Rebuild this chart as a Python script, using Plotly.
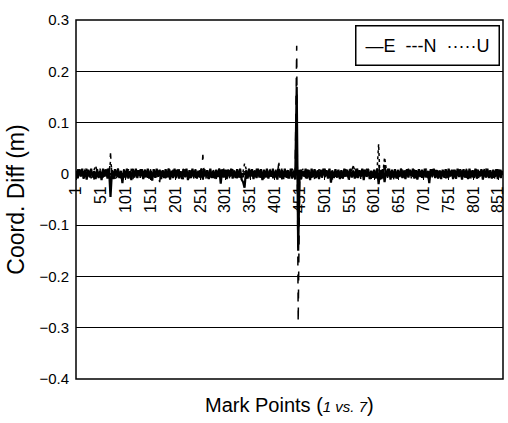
import plotly.graph_objects as go

# ---------------- data (values in millimetres, converted to metres) ----------------
E_noise_mm = [
    6, -8, 9, -5, 10, -9, 7, -11, 8, -6, 10, -7, 5, -10, 9, -8, 6, -12, 10, -5,
    8, -9, 10, -6, 7, -10, 9, -4, 10, -8, 6, -18, 8, -7, 10, -9, 5, -12, 9, -6,
    10, -8, 7, -5, 9, -10, 8, -6, 10, -9, 6, -13, 9, -7, 10, -5, 8, -10, 7, -8,
    9, -6, 10, -11, 6, -8, 10, -7, 8, -9, 5, -10, 9, -6, 10, -12, 7, -8, 10, -5,
    8, -9, 6, -7, 10, -11, 9, -5, 7, -10, 10, -8, 6, -9, 8, -6, 10, -19, 9, -7,
    7, -10, 8, -5, 10, -9, 6, -8, 9, -7, 10, -11, 8, -6, 7, -9, 10, -5, 9, -10,
    6, -8, 10, -7, 9, -12, 8, -6, 10, -9, 7, -5, 10, -8, 6, -11, 9, -7, 8, -10,
    10, -6, 7, -9, 10, -8, 5, -11, 9, -7, 8, -10, 6, -5, 10, -9, 7, -12, 10, -6,
    9, -8, 6, -10, 8, -7, 10, -5, 7, -9, 10, -17, 6, -8, 9, -6, 8, -10, 7, -9,
    10, -5, 8, -11, 9, -7, 6, -9, 10, -8, 7, -6, 10, -12, 8, -5, 9, -10, 6, -7,
    8, -9, 10, -6, 7, -10, 9, -8, 6, -5, 10, -11, 8, -7, 9, -9, 7, -6, 10, -8,
    6, -10, 9, -7, 8, -5, 10, -9, 7, -11, 9, -6, 8, -8, 10, -7, 6, -18, 9, -5,
    10, -8, 7, -9, 6, -10, 8, -6, 9, -7, 10, -5, 7, -10, 8, -9, 10, -6, 6, -11,
    9, -7, 8, -10, 10, -6, 7, -8, 10, -9, 6, -5, 9, -11, 8, -7, 10, -8, 7, -9,
    8, -6, 9, -10, 7, -8, 6,
]
N_noise_mm = [
    -7, 9, -6, 8, -10, 5, -8, 10, -5, 7, -9, 6, -11, 8, -6, 9, -7, 5, -9, 8,
    -6, 10, -8, 7, -5, 9, -10, 6, -7, 8, -9, 10, -6, 5, -8, 9, -7, 10, -11, 6,
    -8, 7, -6, 9, -9, 5, -7, 10, -8, 6, -10, 8, -5, 9, -7, 7, -16, 10, -6, 8,
    -9, 6, -7, 10, -5, 8, -10, 7, -6, 9, -8, 5, -11, 9, -7, 6, -9, 10, -5, 7,
    -8, 9, -6, 7, -10, 8, -5, 10, -9, 6, -7, 9, -8, 5, -10, 7, -6, 8, -9, 10,
    -5, 8, -11, 7, -7, 9, -6, 5, -9, 10, -8, 6, -7, 8, -10, 9, -5, 7, -8, 6,
    -9, 10, -6, 7, -8, 5, -10, 9, -7, 8, -6, 10, -9, 6, -5, 7, -8, 9, -11, 8,
    -6, 7, -9, 5, -7, 10, -8, 6, -10, 9, -5, 8, -7, 6, -9, 10, -6, 7, -8, 5,
    -10, 8, -6, 9, -7, 7, -5, 10, -9, 6, -8, 8, -11, 5, -6, 9, -7, 10, -8, 6,
    -7, 9, -9, 5, -6, 8, -10, 7, -8, 10, -5, 6, -9, 8, -7, 10, -6, 5, -10, 9,
    -8, 6, -5, 9, -7, 8, -11, 7, -6, 10, -9, 5, -8, 7, -7, 9, -10, 6, -5, 8,
    -9, 7, -6, 10, -8, 5, -7, 9, -10, 6, -5, 8, -8, 7, -6, 10, -9, 5, -7, 9,
    -6, 8, -10, 6, -7, 9, -5, 7, -9, 10, -8, 6, -6, 8, -11, 5, -7, 9, -8, 7,
    -5, 10, -8, 6, -9, 7, -7, 8, -6, 9, -10, 5, -8, 7, -6, 10, -9, 6, -7, 8,
    -8, 6, -5, 9, -7, 8, -6,
]
U_noise_mm = [
    5, -9, 8, -6, 7, -11, 10, -5, 6, -8, 9, -7, 8, -10, 5, -6, 10, -9, 7, -5,
    9, -7, 6, -10, 8, -5, 7, -9, 10, -6, 5, -8, 9, -11, 6, -7, 8, -5, 10, -9,
    7, -6, 9, -8, 5, -10, 8, -7, 6, -9, 10, -5, 7, -8, 9, -6, 5, -10, 8, -7,
    6, -9, 10, -5, 8, -7, 7, -11, 9, -6, 5, -8, 10, -7, 6, -9, 8, -5, 7, -10,
    9, -6, 5, -8, 10, -7, 6, -9, 8, -10, 7, -5, 9, -8, 6, -7, 10, -6, 5, -9,
    8, -7, 9, -10, 6, -5, 7, -8, 10, -6, 8, -9, 5, -7, 10, -8, 6, -10, 9, -5,
    7, -9, 6, -6, 8, -11, 9, -7, 5, -8, 10, -6, 7, -9, 8, -5, 6, -10, 10, -7,
    5, -8, 9, -6, 7, -10, 8, -5, 9, -7, 6, -11, 10, -8, 5, -6, 8, -9, 7, -7,
    10, -6, 7, -9, 5, -8, 10, -7, 6, -5, 9, -10, 8, -6, 7, -8, 9, -7, 6, -11,
    8, -5, 6, -9, 10, -7, 7, -8, 5, -6, 9, -10, 8, -7, 6, -9, 10, -5, 7, -8,
    6, -10, 9, -7, 8, -6, 5, -9, 10, -8, 7, -5, 6, -11, 9, -7, 8, -6, 10, -9,
    7, -8, 5, -6, 9, -9, 10, -7, 6, -10, 8, -5, 7, -8, 9, -6, 5, -9, 10, -7,
    9, -6, 8, -10, 7, -5, 6, -8, 10, -9, 5, -7, 8, -6, 10, -10, 7, -5, 9, -8,
    6, -7, 10, -8, 5, -9, 8, -6, 7, -11, 9, -5, 6, -8, 10, -7, 8, -9, 5, -6,
    7, -10, 8, -5, 9, -7, 6,
]

# spikes: mark point -> value (mm)
E_spike_marks = [70, 337, 340, 445, 448, 610, 622]
E_spike_mm = [-45, -16, -27, 170, -150, -20, -16]
N_spike_marks = [70, 256, 409, 445, 448, 559, 610, 622]
N_spike_mm = [40, 37, 16, 250, -290, 15, 22, 26]
U_spike_marks = [40, 70, 340, 409, 610, 613, 622]
U_spike_mm = [16, 24, 20, 23, 58, -14, 32]

series_names = ["E", "N", "U"]
legend_text = "—E  ---N  ·····U"

MARK_STEP = 3  # one sampled value every 3 mark points
x_tick_vals = [1, 51, 101, 151, 201, 251, 301, 351, 401, 451,
               501, 551, 601, 651, 701, 751, 801, 851]
x_tick_text = [str(v) for v in x_tick_vals]
y_tick_vals = [0.3, 0.2, 0.1, 0, -0.1, -0.2, -0.3, -0.4]


def build(noise, marks, spikes):
    vals = list(noise)
    for m, v in zip(marks, spikes):
        i = (m - 1) // MARK_STEP
        if 0 <= i < len(vals):
            vals[i] = v
    xs = [1 + MARK_STEP * i for i in range(len(vals))]
    return xs, [v / 1000.0 for v in vals]


xE, yE = build(E_noise_mm, E_spike_marks, E_spike_mm)
xN, yN = build(N_noise_mm, N_spike_marks, N_spike_mm)
xU, yU = build(U_noise_mm, U_spike_marks, U_spike_mm)

FONT = "Arial, Liberation Sans, Helvetica, sans-serif"

fig = go.Figure()
fig.add_trace(go.Scatter(x=xE, y=yE, mode="lines", name=series_names[0],
                         line=dict(color="black", width=2.2, dash="solid")))
fig.add_trace(go.Scatter(x=xN, y=yN, mode="lines", name=series_names[1],
                         line=dict(color="black", width=1.5, dash="dash")))
fig.add_trace(go.Scatter(x=xU, y=yU, mode="lines", name=series_names[2],
                         line=dict(color="black", width=1.5, dash="dot")))

fig.update_layout(
    width=508, height=423,
    margin=dict(l=76, r=2, t=20, b=44),
    paper_bgcolor="white", plot_bgcolor="white",
    font=dict(family=FONT, color="black"),
    showlegend=False,
    xaxis=dict(range=[0.5, 860.5], anchor="free", position=4 / 7,
               tickmode="array", tickvals=x_tick_vals, ticktext=x_tick_text,
               tickangle=-90, tickfont=dict(size=16, family=FONT, color="black"),
               ticklabeloverflow="allow",
               ticks="outside", ticklen=5, tickcolor="black",
               showline=True, linecolor="black", linewidth=1,
               showgrid=False, zeroline=False),
    yaxis=dict(range=[-0.4, 0.3], tickmode="array", tickvals=y_tick_vals,
               tickfont=dict(size=15, family=FONT, color="black"),
               ticklabelstandoff=6,
               showgrid=True, gridcolor="black", gridwidth=1,
               zeroline=False, showline=False, ticks="",
               title=dict(text="Coord. Diff (m)", font=dict(size=23, family=FONT, color="black"),
                          standoff=8)),
    shapes=[dict(type="rect", xref="paper", yref="paper", x0=0, x1=1, y0=0, y1=1,
                 line=dict(color="black", width=1.5), fillcolor="rgba(0,0,0,0)")],
    annotations=[
        dict(text="Mark Points (<span style='font-size:15px'><i>1 vs. 7</i></span>)",
             xref="paper", yref="paper",
             x=0.5, y=-0.072, xanchor="center", yanchor="middle", showarrow=False,
             font=dict(size=20, family=FONT, color="black")),
        dict(text=legend_text, xref="paper", yref="paper",
             x=0.993, y=0.986, xanchor="right", yanchor="top", showarrow=False,
             bgcolor="white", bordercolor="black", borderwidth=1.5, borderpad=9,
             font=dict(size=18, family=FONT, color="black")),
    ],
)

fig.write_html("out.html")
